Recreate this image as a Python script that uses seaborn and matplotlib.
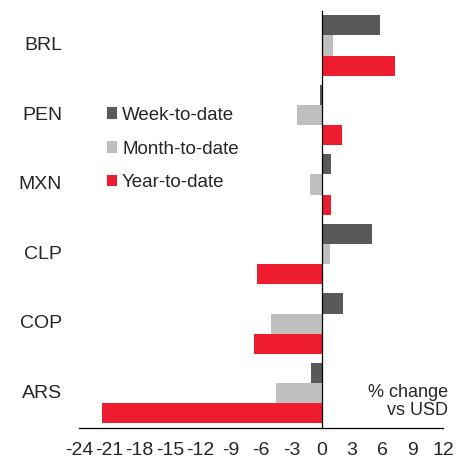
import pandas as pd
import matplotlib
matplotlib.use("Agg")
import matplotlib.pyplot as plt
import matplotlib.transforms as mtransforms
import seaborn as sns

# values (% change vs USD)
currencies = ["BRL", "PEN", "MXN", "CLP", "COP", "ARS"]
periods = ["Week-to-date", "Month-to-date", "Year-to-date"]
week = [5.8, -0.2, 0.9, 5.0, 2.1, -1.1]
month = [1.1, -2.4, -1.2, 0.8, -5.0, -4.5]
year = [7.3, 2.0, 0.9, -6.4, -6.7, -21.7]
colors = ["#595959", "#bfbfbf", "#ed1c2e"]

df = pd.DataFrame({
    "currency": currencies * 3,
    "period": [p for p in periods for _ in currencies],
    "value": week + month + year,
})

sns.set_style("white")
plt.rcParams["font.family"] = ["Liberation Sans", "DejaVu Sans"]
plt.rcParams["axes.unicode_minus"] = False

fig = plt.figure(figsize=(4.68, 4.61), dpi=100)
ax = fig.add_axes([79 / 468, 1 - 428 / 461, (443 - 79) / 468, (428 - 10.7) / 461])

sns.barplot(data=df, y="currency", x="value", hue="period", order=currencies,
            hue_order=periods, palette=colors, orient="h", width=0.87,
            linewidth=0, saturation=1, ax=ax)

ax.set_xlim(-24, 12)
ax.set_ylim(5.5, -0.5)
ax.set_xticks(range(-24, 13, 3))
ax.set_xlabel("")
ax.set_ylabel("")

for s in ["top", "right"]:
    ax.spines[s].set_visible(False)
ax.spines["left"].set_position(("data", 0))
for s in ["left", "bottom"]:
    ax.spines[s].set_color("#000000")
    ax.spines[s].set_linewidth(0.9)

ax.set_yticks(range(len(currencies)))
ax.set_yticklabels([])
ax.set_yticks([i - 0.5 for i in range(len(currencies) + 1)], minor=True)
ax.tick_params(axis="y", which="major", length=0)
ax.tick_params(axis="y", which="minor", length=5, width=0.9, direction="out", color="#000000")
ax.tick_params(axis="x", length=5, width=0.9, direction="out", color="#000000",
               labelsize=14, pad=5)

# category labels sit at the left of the figure, not next to the spine at zero
trans = mtransforms.blended_transform_factory(fig.transFigure, ax.transData)
for i, c in enumerate(currencies):
    ax.text(62 / 468, i, c, transform=trans, ha="right", va="center", fontsize=14)

ax.legend(loc="center left", bbox_to_anchor=(107 / 468, 1 - 149 / 461),
          bbox_transform=fig.transFigure, frameon=False, fontsize=13.5,
          handlelength=0.55, handleheight=0.55, handletextpad=0.25,
          labelspacing=0.9, borderpad=0, borderaxespad=0)

fig.text(447.7 / 468, 1 - 401.5 / 461, "% change\nvs USD", ha="right", va="center",
         fontsize=13, linespacing=1.1)

fig.savefig("out.png", dpi=100)
